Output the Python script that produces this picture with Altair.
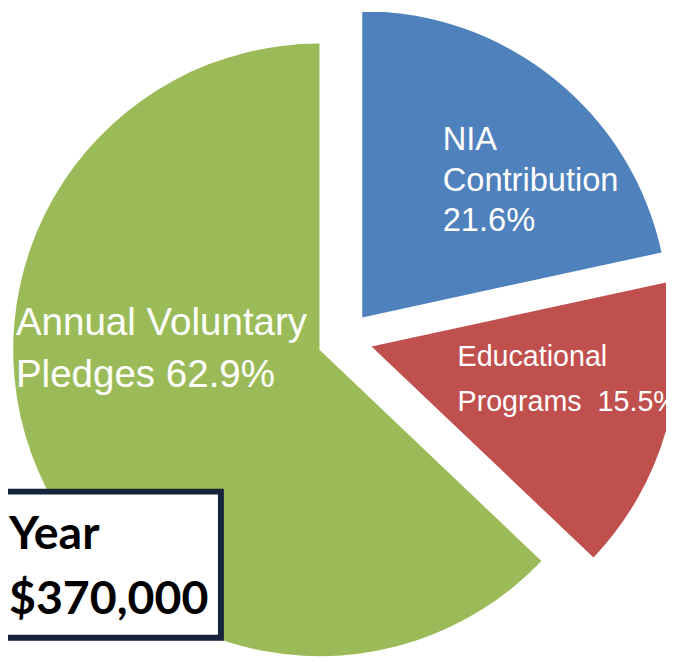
import altair as alt
import pandas as pd

# ---- data ----
categories = ["NIA Contribution", "Educational Programs", "Annual Voluntary Pledges"]
values = [21.6, 15.5, 62.9]
colors = ["#4F81BD", "#C0504D", "#9BBB59"]
label_lines = [
    ["NIA", "Contribution", "21.6%"],
    ["Educational", "Programs\u00a0 15.5%"],
    ["Annual Voluntary", "Pledges 62.9%"],
]
box_lines = ["Year", "$370,000"]

# ---- layout (pixels in plot area) ----
W, H = 666, 654
CX, CY, R, EXPLODE = 341, 331, 310, 28
label_layout = [
    dict(x=440, y0=140, dy=41, size=33),
    dict(x=455, y0=358, dy=46, size=29),
    dict(x=8, y0=327, dy=53, size=39),
]
FONT = "Liberation Sans Narrow, Liberation Sans, Arial"

df = pd.DataFrame({"cat": categories, "value": values, "order": range(len(values))})

pie = (
    alt.Chart(df)
    .transform_window(cum="sum(value)", sort=[alt.SortField("order")], frame=[None, 0])
    .transform_joinaggregate(total="sum(value)")
    .transform_calculate(
        start="2*PI*(datum.cum - datum.value)/datum.total",
        end="2*PI*datum.cum/datum.total",
    )
    .transform_calculate(mid="(datum.start + datum.end)/2")
    .transform_calculate(
        px=f"{CX} + {EXPLODE}*sin(datum.mid)",
        py=f"{CY} - {EXPLODE}*cos(datum.mid)",
    )
    .mark_arc(radius=R, clip=True)
    .encode(
        theta=alt.Theta("start:Q", scale=None),
        theta2="end:Q",
        x=alt.X("px:Q", scale=None),
        y=alt.Y("py:Q", scale=None),
        color=alt.Color("cat:N", scale=alt.Scale(domain=categories, range=colors), legend=None),
    )
)

rows = []
for lines, lay in zip(label_lines, label_layout):
    for i, t in enumerate(lines):
        rows.append(dict(t=t, x=lay["x"], y=lay["y0"] + i * lay["dy"], size=lay["size"]))
lab_df = pd.DataFrame(rows)

labels = (
    alt.Chart(lab_df)
    .mark_text(align="left", baseline="alphabetic", color="white", font=FONT)
    .encode(
        x=alt.X("x:Q", scale=None),
        y=alt.Y("y:Q", scale=None),
        text="t:N",
        size=alt.Size("size:Q", scale=None, legend=None),
    )
)

box = (
    alt.Chart(pd.DataFrame({"a": [0]}))
    .mark_rect(fill="white", stroke="#15243B", strokeWidth=6, clip=True)
    .encode(x=alt.value(-20), x2=alt.value(215.5), y=alt.value(485.5), y2=alt.value(633.5))
)

box_df = pd.DataFrame({"t": box_lines, "y": [544, 609]})
box_text = (
    alt.Chart(box_df)
    .mark_text(align="left", baseline="alphabetic", color="black", font="Lato", fontWeight="bold", fontSize=47)
    .encode(x=alt.value(1), y=alt.Y("y:Q", scale=None), text="t:N")
)

chart = (
    alt.layer(pie, labels, box, box_text)
    .properties(width=W, height=H, padding=0, autosize=alt.AutoSizeParams(type="none"))
    .configure_view(stroke=None)
)

chart.save("out.html", embed_options={"renderer": "svg", "actions": False})
